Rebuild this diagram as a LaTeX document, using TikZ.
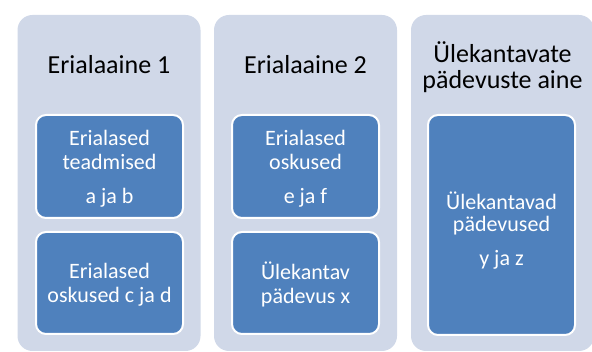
\documentclass[tikz,border=0pt]{standalone}
\usepackage{fontspec}
\setmainfont{Carlito}
\usepackage{tikz}
\usetikzlibrary{positioning}
\definecolor{paleblue}{RGB}{208,216,232}
\definecolor{boxblue}{RGB}{79,129,189}
\tikzset{
  column/.style={
    shape = rectangle,
    rounded corners = 15pt,
    fill = paleblue,
    minimum width = 183pt,
    minimum height = 336pt,
    inner sep = 0pt
  },
}
\tikzset{
  item/.style={
    shape = rectangle,
    rounded corners = 10pt,
    draw = white,
    line width = 2pt,
    fill = boxblue,
    text = white,
    minimum width = 147pt,
    inner sep = 0pt,
    text depth = 0pt,
    align = center,
    font = \fontsize{22}{24}\selectfont
  },
}
\tikzset{
  heading/.style={
    anchor = base,
    align = center,
    inner sep = 0pt,
    font = \fontsize{26}{26}\selectfont
  },
}

\begin{document}
\begin{tikzpicture}[x=1pt,y=1pt]
    \useasboundingbox (0,0) rectangle (592,352);
    \clip (0,0) rectangle (592,352);

    \node[column] (col1) at (109,169) {};
    \node[column] (col2) at (305.5,169) {};
    \node[column] (col3) at (502.5,169) {};

    % headings sit on their (last) baseline
    \node[heading] (head1) at (109,278) {Erialaaine 1};
    \node[heading] (head2) at (305.5,278) {Erialaaine 2};
    \node[heading] (head3) at (502.5,263) {Ülekantavate\\pädevuste aine};

    \node[item, minimum height = 103pt] (know1) at (109.5,185.5) {Erialased\\teadmised\\[10pt]a ja b};
    \node[item, minimum height = 102pt] (skill1) at (109.5,69) {Erialased\\oskused c ja d};

    \node[item, minimum height = 103pt] (skill2) at (305.5,185.5) {Erialased\\oskused\\[10pt]e ja f};
    \node[item, minimum height = 102pt] (comp2) at (305.5,69) {Ülekantav\\pädevus x};

    \node[item, minimum height = 220pt, font = \fontsize{22}{22}\selectfont] (comp3) at (501.5,127) {\rule{0pt}{26pt}Ülekantavad\\pädevused\\[12pt]y ja z};
\end{tikzpicture}
\end{document}
